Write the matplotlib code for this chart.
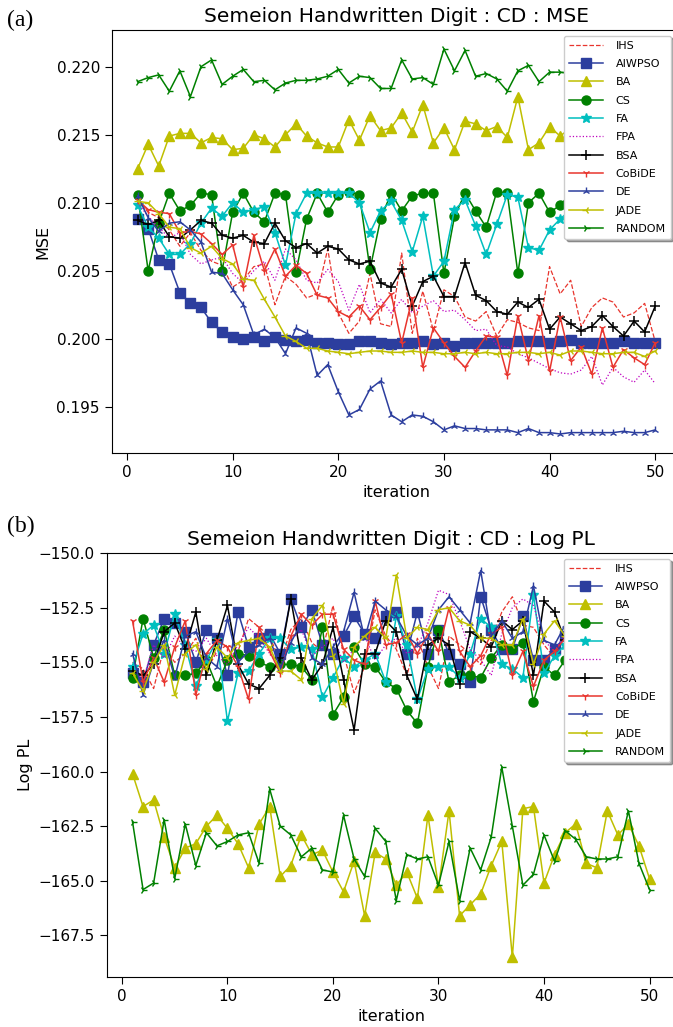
import numpy as np
import matplotlib
matplotlib.use("Agg")
import matplotlib.pyplot as plt

iters = np.arange(1, 51)
names = ['IHS', 'AIWPSO', 'BA', 'CS', 'FA', 'FPA', 'BSA', 'CoBiDE', 'DE', 'JADE', 'RANDOM']

# (a) MSE per iteration
IHS_mse = [0.2102, 0.2093, 0.2089, 0.2080, 0.2068, 0.2078, 0.2065, 0.2057, 0.2054, 0.2038,
           0.2043, 0.2053, 0.2055, 0.2025, 0.2046, 0.2040, 0.2030, 0.2033, 0.2066, 0.2019,
           0.2004, 0.2013, 0.2048, 0.2011, 0.2009, 0.2063, 0.2004, 0.2035, 0.2006, 0.2036,
           0.2031, 0.2016, 0.2013, 0.2020, 0.2002, 0.2014, 0.2012, 0.2008, 0.2006, 0.2053,
           0.2033, 0.2043, 0.2009, 0.2023, 0.2030, 0.2027, 0.2016, 0.2019, 0.2026, 0.1998]
AIWPSO_mse = [0.2088, 0.2081, 0.2058, 0.2055, 0.2034, 0.2026, 0.2023, 0.2012, 0.2005, 0.2001,
              0.2000, 0.2001, 0.1998, 0.2001, 0.1999, 0.1998, 0.1999, 0.1997, 0.1997, 0.1996,
              0.1996, 0.1998, 0.1998, 0.1997, 0.1996, 0.1997, 0.1997, 0.1998, 0.1996, 0.1997,
              0.1995, 0.1997, 0.1997, 0.1997, 0.1997, 0.1997, 0.1998, 0.1998, 0.1998, 0.1997,
              0.1998, 0.1999, 0.1997, 0.1997, 0.1997, 0.1997, 0.1998, 0.1997, 0.1997, 0.1997]
BA_mse = [0.2125, 0.2143, 0.2127, 0.2149, 0.2151, 0.2151, 0.2144, 0.2148, 0.2147, 0.2139,
          0.2140, 0.2150, 0.2147, 0.2141, 0.2150, 0.2158, 0.2149, 0.2144, 0.2141, 0.2141,
          0.2161, 0.2146, 0.2164, 0.2153, 0.2155, 0.2166, 0.2152, 0.2172, 0.2144, 0.2155,
          0.2139, 0.2160, 0.2158, 0.2153, 0.2156, 0.2148, 0.2178, 0.2139, 0.2144, 0.2156,
          0.2149, 0.2155, 0.2151, 0.2158, 0.2147, 0.2153, 0.2160, 0.2150, 0.2156, 0.2152]
CS_mse = [0.2106, 0.2050, 0.2085, 0.2107, 0.2094, 0.2098, 0.2107, 0.2106, 0.2050, 0.2093,
          0.2107, 0.2093, 0.2086, 0.2107, 0.2106, 0.2049, 0.2088, 0.2107, 0.2093, 0.2106,
          0.2108, 0.2106, 0.2051, 0.2088, 0.2107, 0.2094, 0.2105, 0.2107, 0.2107, 0.2048,
          0.2090, 0.2107, 0.2094, 0.2082, 0.2108, 0.2107, 0.2048, 0.2100, 0.2107, 0.2093,
          0.2098, 0.2107, 0.2095, 0.2106, 0.2089, 0.2107, 0.2100, 0.2096, 0.2107, 0.2094]
FA_mse = [0.2098, 0.2082, 0.2074, 0.2062, 0.2062, 0.2070, 0.2085, 0.2096, 0.2090, 0.2100,
          0.2093, 0.2095, 0.2097, 0.2078, 0.2054, 0.2092, 0.2107, 0.2107, 0.2107, 0.2107,
          0.2107, 0.2100, 0.2078, 0.2094, 0.2101, 0.2087, 0.2064, 0.2090, 0.2046, 0.2057,
          0.2095, 0.2102, 0.2083, 0.2062, 0.2084, 0.2106, 0.2104, 0.2067, 0.2065, 0.2080,
          0.2088, 0.2095, 0.2101, 0.2083, 0.2098, 0.2105, 0.2090, 0.2102, 0.2096, 0.2099]
FPA_mse = [0.2100, 0.2090, 0.2082, 0.2074, 0.2078, 0.2062, 0.2055, 0.2058, 0.2060, 0.2048,
           0.2041, 0.2050, 0.2057, 0.2043, 0.2066, 0.2058, 0.2043, 0.2041, 0.2051, 0.2042,
           0.2021, 0.2040, 0.2019, 0.2029, 0.2019, 0.2029, 0.2019, 0.2024, 0.2028, 0.2020,
           0.2021, 0.2014, 0.2006, 0.2007, 0.1995, 0.1994, 0.1989, 0.1986, 0.1982, 0.1978,
           0.1975, 0.1974, 0.1977, 0.1987, 0.1966, 0.1979, 0.1972, 0.1968, 0.1977, 0.1967]
BSA_mse = [0.2087, 0.2084, 0.2087, 0.2075, 0.2074, 0.2080, 0.2087, 0.2085, 0.2076, 0.2074,
           0.2076, 0.2071, 0.2070, 0.2085, 0.2072, 0.2067, 0.2070, 0.2063, 0.2068, 0.2066,
           0.2058, 0.2055, 0.2057, 0.2041, 0.2038, 0.2051, 0.2024, 0.2042, 0.2046, 0.2031,
           0.2031, 0.2056, 0.2032, 0.2028, 0.2020, 0.2018, 0.2027, 0.2023, 0.2029, 0.2007,
           0.2016, 0.2011, 0.2006, 0.2009, 0.2017, 0.2009, 0.2002, 0.2013, 0.2005, 0.2024]
CoBiDE_mse = [0.2102, 0.2095, 0.2093, 0.2092, 0.2078, 0.2079, 0.2077, 0.2070, 0.2062, 0.2069,
              0.2038, 0.2076, 0.2050, 0.2066, 0.2046, 0.2054, 0.2048, 0.2032, 0.2030, 0.2020,
              0.2016, 0.2024, 0.2014, 0.2023, 0.2033, 0.1997, 0.2030, 0.1979, 0.2008, 0.1997,
              0.1987, 0.1979, 0.1991, 0.2002, 0.2001, 0.1973, 0.2017, 0.1984, 0.2017, 0.1976,
              0.2016, 0.1984, 0.1994, 0.1974, 0.2008, 0.1979, 0.1992, 0.1986, 0.1981, 0.1997]
DE_mse = [0.2105, 0.2089, 0.2079, 0.2085, 0.2086, 0.2080, 0.2071, 0.2049, 0.2048, 0.2036,
          0.2025, 0.2003, 0.2007, 0.2001, 0.1989, 0.2008, 0.2004, 0.1973, 0.1981, 0.1961,
          0.1944, 0.1948, 0.1963, 0.1969, 0.1944, 0.1939, 0.1944, 0.1943, 0.1939, 0.1933,
          0.1936, 0.1934, 0.1934, 0.1933, 0.1933, 0.1933, 0.1931, 0.1934, 0.1931, 0.1931,
          0.1930, 0.1931, 0.1931, 0.1931, 0.1931, 0.1931, 0.1932, 0.1931, 0.1931, 0.1933]
JADE_mse = [0.2101, 0.2100, 0.2092, 0.2082, 0.2081, 0.2067, 0.2063, 0.2068, 0.2059, 0.2055,
            0.2044, 0.2043, 0.2029, 0.2016, 0.2002, 0.1998, 0.1993, 0.1993, 0.1991, 0.1990,
            0.1989, 0.1990, 0.1991, 0.1991, 0.1990, 0.1990, 0.1991, 0.1990, 0.1990, 0.1989,
            0.1989, 0.1990, 0.1989, 0.1990, 0.1989, 0.1989, 0.1990, 0.1990, 0.1989, 0.1990,
            0.1988, 0.1991, 0.1991, 0.1990, 0.1989, 0.1989, 0.1990, 0.1990, 0.1987, 0.1991]
RANDOM_mse = [0.2189, 0.2192, 0.2194, 0.2182, 0.2197, 0.2178, 0.2200, 0.2205, 0.2187, 0.2193,
              0.2198, 0.2189, 0.2190, 0.2183, 0.2188, 0.2190, 0.2190, 0.2191, 0.2193, 0.2198,
              0.2188, 0.2193, 0.2192, 0.2184, 0.2184, 0.2205, 0.2191, 0.2192, 0.2187, 0.2213,
              0.2197, 0.2212, 0.2193, 0.2195, 0.2191, 0.2182, 0.2197, 0.2201, 0.2189, 0.2196,
              0.2196, 0.2195, 0.2193, 0.2197, 0.2194, 0.2190, 0.2196, 0.2193, 0.2195, 0.2194]

# (b) Log PL per iteration
IHS_pl = [-155.0, -155.3, -156.2, -154.3, -155.0, -154.6, -153.9, -155.4, -154.5, -154.2,
          -154.5, -153.0, -153.4, -153.8, -155.0, -153.5, -153.0, -154.1, -154.5, -152.4,
          -154.6, -156.4, -155.2, -152.6, -153.8, -154.4, -155.6, -153.9, -155.2, -156.2,
          -153.8, -154.2, -154.6, -155.1, -154.0, -152.7, -152.0, -153.3, -153.4, -154.2,
          -154.8, -153.6, -154.3, -155.0, -153.9, -154.5, -154.1, -153.5, -154.7, -154.0]
AIWPSO_pl = [-155.5, -155.9, -154.2, -153.0, -153.2, -153.6, -155.0, -153.5, -153.9, -155.6,
             -152.7, -154.3, -153.9, -153.7, -154.6, -152.1, -153.4, -152.6, -154.2, -154.6,
             -153.8, -152.9, -153.7, -153.9, -152.9, -152.7, -154.6, -152.7, -154.6, -153.5,
             -154.6, -155.1, -155.9, -152.0, -153.5, -154.4, -154.4, -152.9, -154.9, -154.9,
             -154.4, -153.8, -154.6, -153.2, -154.1, -153.6, -154.8, -153.9, -153.4, -154.2]
BA_pl = [-160.1, -161.6, -161.3, -163.0, -164.4, -163.5, -163.3, -162.5, -162.0, -162.6,
         -163.3, -164.4, -162.4, -161.6, -164.8, -164.3, -162.9, -163.8, -163.6, -164.6,
         -165.5, -164.1, -166.6, -163.7, -164.0, -165.2, -164.6, -165.8, -162.0, -165.3,
         -161.8, -166.6, -166.1, -165.6, -164.3, -163.2, -168.5, -161.7, -161.6, -165.1,
         -163.8, -162.8, -162.4, -164.2, -164.4, -161.8, -162.9, -162.4, -163.4, -164.9]
CS_pl = [-155.7, -153.0, -154.8, -153.5, -155.6, -155.6, -155.5, -154.9, -156.1, -154.9,
         -154.6, -154.7, -155.0, -155.2, -155.1, -155.1, -155.2, -155.8, -153.4, -157.4,
         -156.6, -154.3, -155.1, -155.2, -155.9, -156.2, -157.2, -157.8, -155.2, -153.5,
         -155.9, -155.6, -155.6, -155.7, -154.8, -154.2, -154.4, -154.1, -156.8, -155.2,
         -155.6, -154.9, -155.3, -155.8, -154.6, -155.1, -155.4, -154.9, -155.6, -155.2]
FA_pl = [-155.2, -153.7, -153.3, -154.6, -152.8, -154.2, -156.1, -154.9, -154.0, -157.7,
         -155.5, -155.4, -154.6, -153.9, -153.9, -154.4, -154.3, -154.4, -156.6, -155.7,
         -154.8, -155.2, -154.9, -154.6, -155.9, -152.9, -154.2, -156.7, -155.3, -155.2,
         -155.2, -155.7, -154.6, -153.0, -153.4, -155.1, -155.3, -155.7, -151.9, -155.5,
         -154.7, -154.2, -155.0, -154.5, -155.3, -154.1, -154.9, -155.4, -154.6, -155.0]
FPA_pl = [-155.3, -155.8, -154.2, -154.8, -153.8, -154.3, -154.5, -153.9, -154.7, -155.1,
          -154.2, -153.4, -153.9, -154.6, -155.2, -154.0, -153.5, -154.7, -154.3, -153.9,
          -155.0, -154.4, -153.8, -154.9, -154.2, -153.9, -154.6, -154.3, -153.2, -151.7,
          -151.9, -153.1, -154.4, -154.9, -155.6, -153.7, -152.5, -152.1, -152.4, -154.0,
          -154.5, -153.7, -154.1, -154.8, -153.6, -154.3, -154.6, -153.8, -154.2, -154.5]
BSA_pl = [-155.4, -155.6, -155.1, -153.6, -153.2, -154.4, -152.7, -155.6, -154.0, -152.4,
          -155.1, -156.0, -156.2, -155.6, -154.8, -152.1, -154.8, -155.8, -155.1, -153.4,
          -155.8, -158.1, -154.6, -154.6, -153.1, -153.6, -155.6, -156.7, -154.2, -153.9,
          -154.2, -156.0, -153.6, -153.9, -154.3, -153.1, -153.5, -153.1, -155.6, -152.2,
          -152.7, -154.0, -153.6, -154.7, -153.9, -154.3, -153.5, -154.8, -154.1, -153.7]
CoBiDE_pl = [-153.1, -155.9, -154.8, -155.9, -154.3, -153.1, -156.5, -154.6, -154.0, -154.3,
             -155.2, -156.7, -153.4, -154.5, -155.5, -153.8, -152.8, -153.3, -152.8, -152.8,
             -154.4, -154.9, -155.1, -152.2, -154.2, -154.1, -153.7, -154.6, -153.7, -154.5,
             -152.5, -154.5, -155.2, -154.7, -153.7, -153.4, -155.6, -154.5, -156.1, -154.9,
             -154.5, -153.9, -155.0, -154.2, -153.6, -154.8, -154.0, -155.3, -153.8, -154.4]
DE_pl = [-154.6, -156.5, -155.0, -154.0, -155.7, -153.8, -153.6, -154.8, -155.2, -153.0,
         -155.0, -154.5, -154.2, -153.9, -155.3, -154.1, -153.2, -154.8, -155.1, -154.3,
         -153.6, -151.8, -153.9, -152.2, -152.6, -152.9, -153.8, -154.2, -153.9, -152.6,
         -152.0, -152.6, -153.2, -150.8, -153.8, -153.1, -153.9, -153.6, -151.5, -154.0,
         -154.2, -153.3, -154.5, -153.8, -153.0, -154.6, -153.5, -154.1, -153.7, -154.3]
JADE_pl = [-155.5, -156.3, -155.0, -154.2, -156.5, -154.6, -154.2, -155.3, -154.3, -154.8,
           -154.1, -154.0, -153.9, -154.3, -155.4, -155.4, -155.8, -153.0, -152.4, -154.7,
           -156.9, -154.3, -153.8, -153.4, -153.9, -151.0, -153.9, -153.4, -153.5, -152.6,
           -152.5, -153.1, -153.3, -153.9, -153.9, -154.2, -154.2, -153.0, -155.1, -153.7,
           -153.1, -153.8, -154.4, -153.5, -154.0, -153.6, -154.2, -153.7, -153.9, -154.1]
RANDOM_pl = [-162.3, -165.4, -165.1, -162.2, -164.9, -162.4, -164.3, -162.8, -163.4, -163.2,
             -162.9, -162.8, -164.2, -160.8, -162.5, -162.9, -163.9, -163.5, -164.5, -164.6,
             -162.0, -164.0, -164.8, -162.6, -163.2, -165.9, -163.8, -164.0, -163.9, -165.2,
             -163.2, -165.9, -163.5, -164.5, -163.0, -159.8, -162.5, -165.2, -164.7, -162.9,
             -164.1, -162.7, -163.1, -163.9, -164.0, -164.0, -163.9, -161.8, -164.2, -165.4]

mse_data = [IHS_mse, AIWPSO_mse, BA_mse, CS_mse, FA_mse, FPA_mse, BSA_mse,
            CoBiDE_mse, DE_mse, JADE_mse, RANDOM_mse]
pl_data = [IHS_pl, AIWPSO_pl, BA_pl, CS_pl, FA_pl, FPA_pl, BSA_pl,
           CoBiDE_pl, DE_pl, JADE_pl, RANDOM_pl]

red = '#e8352e'
blue = '#2c3e9e'
styles = {
    'IHS':    dict(color=red, ls='--', lw=0.9),
    'AIWPSO': dict(color=blue, marker='s', ms=7),
    'BA':     dict(color='y', marker='^', ms=7),
    'CS':     dict(color='g', marker='o', ms=6.5),
    'FA':     dict(color='c', marker='*', ms=7.5),
    'FPA':    dict(color='m', ls=':', lw=0.9),
    'BSA':    dict(color='k', marker='+', ms=7, mew=1.1),
    'CoBiDE': dict(color=red, marker='1', ms=6, mew=1.0),
    'DE':     dict(color=blue, marker='2', ms=5.5, mew=1.0),
    'JADE':   dict(color='y', marker='3', ms=5.5, mew=1.0),
    'RANDOM': dict(color='g', marker='4', ms=5.5, mew=1.0),
}

fig = plt.figure(figsize=(6.73, 10.27), dpi=100)
ax1 = fig.add_axes([0.166, 0.5589, 0.846, 0.4119])
ax2 = fig.add_axes([0.1585, 0.0487, 0.845, 0.4128])

for ax, data in ((ax1, mse_data), (ax2, pl_data)):
    for name, vals in zip(names, data):
        st = dict(lw=1.1)
        st.update(styles[name])
        ax.plot(iters, vals, label=name, **st)
    ax.tick_params(labelsize=11, direction='out', length=5)
    ax.set_xlabel('iteration', fontsize=11.5)
    ax.set_xticks([0, 10, 20, 30, 40, 50])
    ax.spines['right'].set_visible(False)

ax1.set_ylim(0.1916, 0.2227)
ax1.set_yticks([0.195, 0.200, 0.205, 0.210, 0.215, 0.220])
ax1.yaxis.set_major_formatter(matplotlib.ticker.FormatStrFormatter('%.3f'))
ax1.set_ylabel('MSE', fontsize=11.5)
ax1.set_title('Semeion Handwritten Digit : CD : MSE', fontsize=14.5)
ax1.legend(loc='upper right', bbox_to_anchor=(0.992, 1.0), fontsize=8, numpoints=1,
           shadow=True, handlelength=3.0, handletextpad=1.2, labelspacing=0.75,
           borderpad=0.45, fancybox=True, framealpha=1)

ax2.set_ylim(-169.4, -150.0)
ax2.set_yticks([-167.5, -165.0, -162.5, -160.0, -157.5, -155.0, -152.5, -150.0])
ax2.set_ylabel('Log PL', fontsize=11.5)
ax2.set_title('Semeion Handwritten Digit : CD : Log PL', fontsize=14.5)
ax2.legend(loc='upper right', bbox_to_anchor=(1.001, 1.0), fontsize=8, numpoints=1,
           shadow=True, handlelength=3.0, handletextpad=1.2, labelspacing=0.75,
           borderpad=0.45, fancybox=True, framealpha=1)

fig.text(0.010, 0.9796, '(a)', family='Liberation Serif', fontsize=17, va='center')
fig.text(0.010, 0.487, '(b)', family='Liberation Serif', fontsize=17, va='center')

fig.savefig('out.png', dpi=100)
